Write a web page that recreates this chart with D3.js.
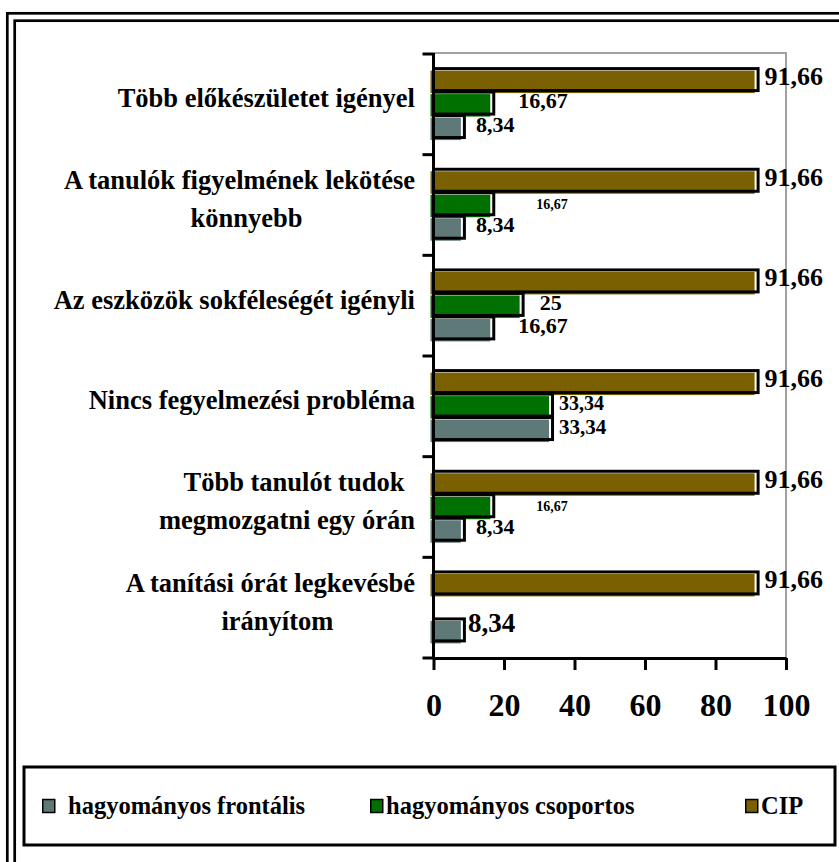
<!DOCTYPE html>
<html>
<head>
<meta charset="utf-8">
<script src="https://cdn.jsdelivr.net/npm/d3@7"></script>
<style>
  body { margin: 0; background: #fff; }
  svg text { font-family: "Liberation Serif", "Times New Roman", serif; font-weight: bold; fill: #000; }
</style>
</head>
<body>
<svg id="chart" width="839" height="862"></svg>
<script>
// category labels (one entry per line of the label)
const categories = [
  ["Több előkészületet igényel"],
  ["A tanulók figyelmének lekötése", "könnyebb"],
  ["Az eszközök sokféleségét igényli"],
  ["Nincs fegyelmezési probléma"],
  ["Több tanulót tudok", "megmozgatni egy órán"],
  ["A tanítási órát legkevésbé", "irányítom"]
];

// series values (percent)
const frontalis = [8.34, 8.34, 16.67, 33.34, 8.34, 8.34];
const csoportos = [16.67, 16.67, 25, 33.34, 16.67, 0];
const cip = [91.66, 91.66, 91.66, 91.66, 91.66, 91.66];

const seriesNames = ["hagyományos frontális", "hagyományos csoportos", "CIP"];
const xTicks = [0, 20, 40, 60, 80, 100];

// series in drawing order inside a band: top to bottom
const series = [
  { key: "cip", name: seriesNames[2], values: cip, color: "#7a6000" },
  { key: "cs", name: seriesNames[1], values: csoportos, color: "#007000" },
  { key: "fr", name: seriesNames[0], values: frontalis, color: "#5f7878" }
];

// label tweaks, Excel placed a few of them by hand
const labelTweak = {
  "0-cs": { dx: 26 },
  "1-cs": { dx: 44, size: 14 },
  "2-cs": { dx: 18 },
  "2-fr": { dx: 26 },
  "3-cs": { dx: 8, size: 20 },
  "3-fr": { dx: 8, size: 21 },
  "4-cs": { dx: 44, size: 14 },
  "5-fr": { dx: 5, size: 27, dy: -3 }
};

const svg = d3.select("#chart");

// outer double frame (cut off at right and bottom)
svg.append("rect").attr("x", 7.3).attr("y", 13.3).attr("width", 900).attr("height", 900)
  .attr("fill", "none").attr("stroke", "#000").attr("stroke-width", 2.7);
svg.append("rect").attr("x", 14.7).attr("y", 20.7).attr("width", 900).attr("height", 900)
  .attr("fill", "none").attr("stroke", "#000").attr("stroke-width", 2.7);

const plot = { left: 433.5, right: 786, top: 54, bottom: 658 };

const x = d3.scaleLinear().domain([0, 100]).range([plot.left, plot.right]);

const idx = categories.map((d, i) => i);
const y0 = d3.scaleBand().domain(idx).range([plot.top, plot.bottom])
  .paddingInner(0.3).paddingOuter(0.15);
const y1 = d3.scaleBand().domain(series.map(s => s.key)).range([0, y0.bandwidth()]);
const bh = y1.bandwidth();

// plot area border (grey)
svg.append("path")
  .attr("d", `M${plot.left},${plot.top - 1}H${plot.right}V${plot.bottom}`)
  .attr("fill", "none").attr("stroke", "#a0a0a0").attr("stroke-width", 2);

// bars
const groups = svg.selectAll(".cat").data(idx).enter().append("g")
  .attr("class", "cat")
  .attr("transform", i => `translate(0,${y0(i)})`);

series.forEach(s => {
  const g = groups.filter(i => s.values[i] > 0);
  g.append("rect")
    .attr("x", x(0) - 3)
    .attr("y", y1(s.key) + 1.5)
    .attr("width", i => x(s.values[i]) - x(0) + 1)
    .attr("height", bh - 1)
    .attr("fill", s.color);
  g.append("rect")
    .attr("x", x(0))
    .attr("y", y1(s.key) - 0.5)
    .attr("width", i => x(s.values[i]) - x(0) + 1.5)
    .attr("height", bh - 1.5)
    .attr("fill", "none").attr("stroke", "#000").attr("stroke-width", 3);
});

// value labels
series.forEach(s => {
  groups.filter(i => s.values[i] > 0).append("text")
    .each(function (i) {
      const t = labelTweak[i + "-" + s.key] || {};
      const size = t.size || (s.key === "cip" ? 26 : 22);
      const dx = t.dx !== undefined ? t.dx : (s.key === "cip" ? 8 : 13);
      d3.select(this)
        .attr("x", x(s.values[i]) + dx)
        .attr("y", y1(s.key) + bh / 2 + 4 + (t.dy || 0))
        .style("font-size", size + "px")
        .text(String(s.values[i]).replace(".", ","));
    });
});

// y axis line and ticks at band boundaries
const step = y0.step();
const bounds = idx.map(i => y0(i) - y0.paddingOuter() * step).concat([plot.bottom]);
svg.append("line").attr("x1", plot.left).attr("x2", plot.left)
  .attr("y1", plot.top - 1).attr("y2", plot.bottom)
  .attr("stroke", "#000").attr("stroke-width", 3);
svg.selectAll(".ytick").data(bounds).enter().append("line")
  .attr("class", "ytick")
  .attr("x1", plot.left - 11).attr("x2", plot.left)
  .attr("y1", d => d).attr("y2", d => d)
  .attr("stroke", "#000").attr("stroke-width", 3);

// category labels
const labelSize = 26.5;
const lineGap = 38;
const labelRight = 415;
groups.each(function (i) {
  const lines = categories[i];
  const cy = y0.bandwidth() / 2;
  const g = d3.select(this).append("g");
  const texts = g.selectAll("text").data(lines).enter().append("text")
    .style("font-size", labelSize + "px")
    .attr("y", (d, k) => cy + 3 + (k - (lines.length - 1) / 2) * lineGap - (y0(i) - bounds[i] - y0.paddingOuter() * step) )
    .text(d => d);
  const widths = [];
  texts.each(function () { widths.push(this.getComputedTextLength()); });
  const maxW = d3.max(widths);
  const cx = labelRight - maxW / 2;
  texts.attr("text-anchor", "middle")
    .attr("x", (d, k) => widths[k] === maxW ? cx : cx + 7);
});

// x axis
const xAxis = svg.append("g")
  .attr("transform", `translate(0,${plot.bottom})`)
  .call(d3.axisBottom(x).tickValues(xTicks).tickSize(12).tickSizeOuter(0).tickPadding(23));
xAxis.select(".domain").attr("stroke", "#000").attr("stroke-width", 3);
xAxis.selectAll(".tick line").attr("stroke", "#000").attr("stroke-width", 3);
xAxis.selectAll(".tick text")
  .style("font-family", '"Liberation Serif", "Times New Roman", serif')
  .style("font-weight", "bold").style("font-size", "32px").attr("fill", "#000");

// legend
const legend = { x: 24, y: 767, w: 811, h: 78 };
svg.append("rect").attr("x", legend.x).attr("y", legend.y)
  .attr("width", legend.w).attr("height", legend.h)
  .attr("fill", "none").attr("stroke", "#000").attr("stroke-width", 3);

const legendItems = [series[2], series[1], series[0]];
const legendX = [42, 370, 745];
const legendTextDx = [26, 16, 16];
const li = svg.selectAll(".legend").data(legendItems).enter().append("g")
  .attr("class", "legend")
  .attr("transform", (d, k) => `translate(${legendX[k]},${legend.y + legend.h / 2})`);
li.append("rect").attr("x", 0.75).attr("y", -6.5).attr("width", 12).attr("height", 13)
  .attr("fill", d => d.color).attr("stroke", "#000").attr("stroke-width", 1.5);
li.append("text").attr("x", (d, k) => legendTextDx[k]).attr("y", 8)
  .style("font-size", "24.5px")
  .text(d => d.name);
</script>
</body>
</html>
